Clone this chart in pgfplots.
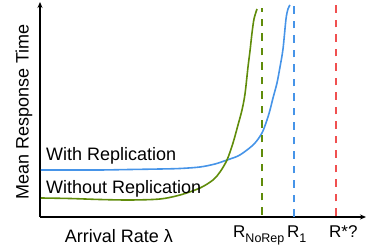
\documentclass[border=0pt]{standalone}
\usepackage{pgfplots}
\pgfplotsset{compat=1.18}
\usepackage{fontspec}
\setmainfont{Liberation Sans}
\usetikzlibrary{arrows.meta}
\definecolor{cblue}{RGB}{70,148,232}
\definecolor{cgreen}{RGB}{96,140,10}
\definecolor{cred}{RGB}{240,80,80}
\begin{document}
\begin{tikzpicture}[x=1pt,y=1pt]
\useasboundingbox (-40,-32) rectangle (328,217);
\begin{axis}[at={(0,0)}, anchor=south west,
  scale only axis, width=326pt, height=215pt,
  xmin=40, xmax=366, ymin=0, ymax=215,
  axis x line=bottom, axis y line=left, ticks=none,
  axis line style={line width=1.4pt, -{Stealth[length=6pt,width=5pt]}},
  clip=false]
\addplot[cblue, line width=1.6pt, smooth, tension=0.5] coordinates {
(41,47) (70,47) (100,47) (130,47.5) (160,48) (180,48.5) (200,50) (215,53) (227,57) (238,61) (247,67) (255,74) (262,84) (267,97) (270,107) (273,119) (277,134) (280,150) (283,168) (286,198) (288,208) (290,212)};
\addplot[cgreen, line width=1.6pt, smooth, tension=0.5] coordinates {
(41,19) (70,18.5) (100,17.5) (130,17) (160,18) (180,22) (200,29) (213,37) (220,45) (227,57) (233,74) (238,92) (242,107) (245,123) (248,150) (250,166) (252,184) (254,198) (257,208)};
\addplot[cgreen, line width=1.6pt, dash pattern=on 7.5pt off 7pt] coordinates {(262,2) (262,209)};
\addplot[cblue, line width=1.6pt, dash pattern=on 7.5pt off 7pt] coordinates {(294,0) (294,217)};
\addplot[cred, line width=1.6pt, dash pattern=on 7.5pt off 7pt] coordinates {(336,1) (336,217)};
\node[anchor=base west, inner sep=0pt, font=\fontsize{18}{18}\selectfont] at (axis cs:46,56) {With Replication};
\node[anchor=base west, inner sep=0pt, font=\fontsize{18}{18}\selectfont] at (axis cs:46,23) {Without Replication};
\end{axis}
\node[rotate=90, inner sep=0pt, font=\fontsize{18}{18}\selectfont] at (-16,105) {Mean Response Time};
\node[anchor=base, inner sep=0pt, font=\fontsize{18}{18}\selectfont] at (79,-26) {Arrival Rate λ};
\node[anchor=base west, inner sep=0pt, font=\fontsize{17}{17}\selectfont] at (193,-21) {R\raisebox{-0.28em}{\fontsize{12.5}{12.5}\selectfont NoRep}};
\node[anchor=base west, inner sep=0pt, font=\fontsize{17}{17}\selectfont] at (247,-21) {R\raisebox{-0.28em}{\fontsize{12.5}{12.5}\selectfont 1}};
\node[anchor=base west, inner sep=0pt, font=\fontsize{17}{17}\selectfont] at (289,-21) {R*?};
\end{tikzpicture}
\end{document}
